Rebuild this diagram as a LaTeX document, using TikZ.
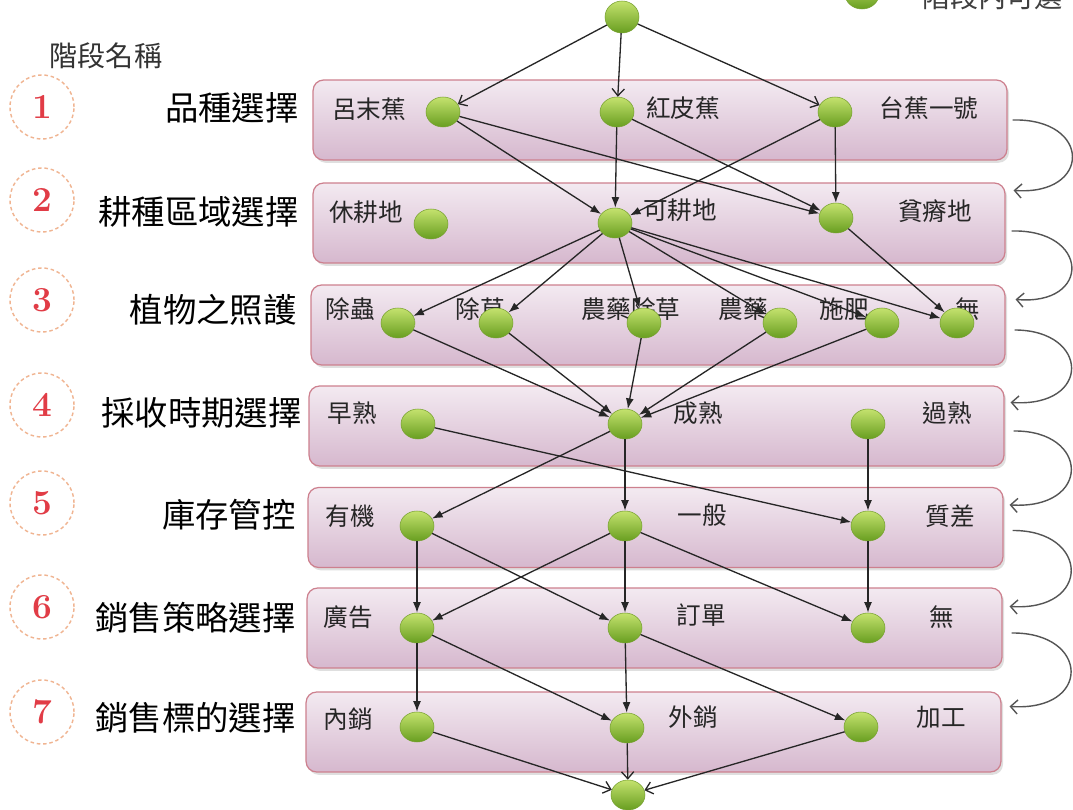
\documentclass[tikz,border=0pt]{standalone}
\usepackage{fontspec}
\newfontfamily\cjk{Noto Sans CJK TC}
\usetikzlibrary{arrows.meta,shapes.geometric,shadows,calc}
\definecolor{boxtop}{RGB}{243,234,241}
\definecolor{boxbot}{RGB}{214,184,206}
\definecolor{boxline}{RGB}{205,128,142}
\definecolor{balltop}{RGB}{196,226,110}
\definecolor{ballbot}{RGB}{104,158,32}
\definecolor{ballline}{RGB}{118,160,48}
\definecolor{edgec}{RGB}{38,38,38}
\definecolor{curvec}{RGB}{85,85,85}
\definecolor{circc}{RGB}{240,180,145}
\definecolor{numc}{RGB}{225,60,70}
\begin{document}
\begin{tikzpicture}[x=0.02cm,y=-0.02cm,
  stagebox/.style={draw=boxline, line width=0.7pt, rounded corners=6pt, top color=boxtop, bottom color=boxbot, inner sep=0pt, minimum height=1.6cm,
     drop shadow={opacity=0.25, shadow xshift=1.2pt, shadow yshift=-1.6pt}},
  ball/.style={ellipse, inner sep=0pt, minimum width=0.68cm, minimum height=0.6cm, top color=balltop, bottom color=ballbot, draw=ballline, line width=0.3pt},
  lab/.style={font=\cjk\fontsize{14}{16}\selectfont, text=black!85, inner sep=0pt},
  stagename/.style={font=\cjk\fontsize{19}{22}\selectfont, text=black, inner sep=0pt, anchor=east},
  numcirc/.style={circle, draw=circc, dash pattern=on 2pt off 1.6pt, line width=0.8pt, minimum size=1.28cm, inner sep=0pt, text=numc, font=\fontsize{20}{22}\selectfont\bfseries},
  arr/.style={draw=edgec, line width=0.75pt, -{Latex[length=6pt,width=4.5pt]}},
  barb/.style={draw=edgec, line width=0.75pt, -{Straight Barb[length=4pt,width=7pt]}},
  cur/.style={draw=curvec, line width=0.8pt, -{Straight Barb[length=4pt,width=8pt]}}
]
\clip (0,0) rectangle (1073,810);
\fill[white] (0,0) rectangle (1073,810);

% legend (cut off at top)
\node[ball] (leg) at (862,-6) {};
\node[font=\cjk\fontsize{16}{18}\selectfont, text=black!75, anchor=west, inner sep=0pt] (legt) at (922,-3) {階段內可選};

% header
\node[font=\cjk\fontsize{16}{18}\selectfont, text=black!80, inner sep=0pt] (hdr) at (106,56) {階段名稱};

% stage boxes
\node[stagebox, minimum width=13.88cm] (r1) at (660,120) {};
\node[stagebox, minimum width=13.84cm] (r2) at (659,223) {};
\node[stagebox, minimum width=13.88cm] (r3) at (658,325) {};
\node[stagebox, minimum width=13.9cm] (r4) at (656.5,426) {};
\node[stagebox, minimum width=13.9cm] (r5) at (655.5,527.5) {};
\node[stagebox, minimum width=13.9cm] (r6) at (654.5,628) {};
\node[stagebox, minimum width=13.9cm] (r7) at (653.5,732) {};

% numbered circles
\node[numcirc] (n1) at (42,107) {1};
\node[numcirc] (n2) at (42,200) {2};
\node[numcirc] (n3) at (42,300) {3};
\node[numcirc] (n4) at (42,405) {4};
\node[numcirc] (n5) at (42,503) {5};
\node[numcirc] (n6) at (42,607) {6};
\node[numcirc] (n7) at (42,712) {7};

% stage names
\node[stagename] (t1) at (299,108) {品種選擇};
\node[stagename] (t2) at (299,212) {耕種區域選擇};
\node[stagename] (t3) at (297,310) {植物之照護};
\node[stagename] (t4) at (302,413) {採收時期選擇};
\node[stagename] (t5) at (296,515) {庫存管控};
\node[stagename] (t6) at (296,618) {銷售策略選擇};
\node[stagename] (t7) at (296,718) {銷售標的選擇};

% labels in boxes
\node[lab] at (369,109) {呂末蕉};
\node[lab] at (683,108) {紅皮蕉};
\node[lab] at (929,108) {台蕉一號};
\node[lab] at (366,212) {休耕地};
\node[lab] at (680,210) {可耕地};
\node[lab] at (935,211) {貧瘠地};
\node[lab] at (350,309) {除蟲};
\node[lab] at (480,309) {除草};
\node[lab] at (631,309) {農藥除草};
\node[lab] at (743,309) {農藥};
\node[lab] at (844,309) {施肥};
\node[lab] at (968,309) {無};
\node[lab] at (352,413) {早熟};
\node[lab] at (698,413) {成熟};
\node[lab] at (947,413) {過熟};
\node[lab] at (350,516) {有機};
\node[lab] at (702,515) {一般};
\node[lab] at (950,516) {質差};
\node[lab] at (348,617) {廣告};
\node[lab] at (701,615) {訂單};
\node[lab] at (942,617) {無};
\node[lab] at (348,719) {內銷};
\node[lab] at (693,717) {外銷};
\node[lab] at (941,717) {加工};

% choice nodes
\node[ball, minimum height=0.64cm] (s) at (622,17) {};
\node[ball] (a1) at (443,112) {};
\node[ball] (a2) at (617,112) {};
\node[ball] (a3) at (835,112) {};
\node[ball] (b1) at (431,224) {};
\node[ball] (b2) at (615,223) {};
\node[ball] (b3) at (836,218) {};
\node[ball] (c1) at (398,323) {};
\node[ball] (c2) at (496,323) {};
\node[ball] (c3) at (644,323) {};
\node[ball] (c4) at (780,323) {};
\node[ball] (c5) at (882,323) {};
\node[ball] (c6) at (957,323) {};
\node[ball] (d1) at (418,424) {};
\node[ball] (d2) at (625,424) {};
\node[ball] (d3) at (868,424) {};
\node[ball] (e1) at (417,526) {};
\node[ball] (e2) at (625,526) {};
\node[ball] (e3) at (868,526) {};
\node[ball] (f1) at (417,628) {};
\node[ball] (f2) at (625,628) {};
\node[ball] (f3) at (868,628) {};
\node[ball] (g1) at (417,727) {};
\node[ball] (g2) at (627,728) {};
\node[ball] (g3) at (861,727) {};
\node[ball] (z) at (628,795) {};

% edges
\draw[barb] (s) -- (a1);
\draw[barb] (s) -- (a2);
\draw[barb] (s) -- (a3);
\draw[arr] (a1) -- (b2);
\draw[arr] (a1) -- (b3);
\draw[arr] (a2) -- (b2);
\draw[arr] (a2) -- (b3);
\draw[arr] (a3) -- (b2);
\draw[arr] (a3) -- (b3);
\draw[arr] (b2) -- (c1);
\draw[arr] (b2) -- (c2);
\draw[arr] (b2) -- (c3);
\draw[arr] (b2) -- (c4);
\draw[arr] (b2) -- (c5);
\draw[arr] (b2) -- (c6);
\draw[arr] (b3) -- (c6);
\draw[arr] (c1) -- (d2);
\draw[arr] (c2) -- (d2);
\draw[arr] (c3) -- (d2);
\draw[arr] (c4) -- (d2);
\draw[arr] (c5) -- (d2);
\draw[arr] (d1) -- (e3);
\draw[arr] (d2) -- (e1);
\draw[arr] (d2) -- (e2);
\draw[arr] (d3) -- (e3);
\draw[arr] (e1) -- (f1);
\draw[arr] (e1) -- (f2);
\draw[arr] (e2) -- (f1);
\draw[arr] (e2) -- (f2);
\draw[arr] (e2) -- (f3);
\draw[arr] (e3) -- (f3);
\draw[arr] (f1) -- (g1);
\draw[arr] (f1) -- (g2);
\draw[arr] (f2) -- (g2);
\draw[arr] (f2) -- (g3);
\draw[barb] (g1) -- (z);
\draw[barb] (g2) -- (z);
\draw[barb] (g3) -- (z);

% stage-to-stage curved arrows on the right
\coordinate (p1) at ($(r1.east)+(5,0)$);
\coordinate (q2) at ($(r2.north east)+(8,8)$);
\coordinate (p2) at ($(r2.east)+(6,8)$);
\coordinate (q3) at ($(r3.north east)+(10,15)$);
\coordinate (p3) at ($(r3.east)+(9,5)$);
\coordinate (q4) at ($(r4.north east)+(6,17)$);
\coordinate (p4) at ($(r4.east)+(9,5)$);
\coordinate (q5) at ($(r5.north east)+(6,18)$);
\coordinate (p5) at ($(r5.east)+(9,3)$);
\coordinate (q6) at ($(r6.north east)+(7,19)$);
\coordinate (p6) at ($(r6.east)+(9,5)$);
\coordinate (q7) at ($(r7.north east)+(8,15)$);
\draw[cur] (p1) .. controls (1092,118) and (1092,196) .. (q2);
\draw[cur] (p2) .. controls (1090,229) and (1092,306) .. (q3);
\draw[cur] (p3) .. controls (1090,330) and (1092,408) .. (q4);
\draw[cur] (p4) .. controls (1090,430) and (1092,510) .. (q5);
\draw[cur] (p5) .. controls (1090,530) and (1092,612) .. (q6);
\draw[cur] (p6) .. controls (1090,632) and (1092,712) .. (q7);
\end{tikzpicture}
\end{document}
